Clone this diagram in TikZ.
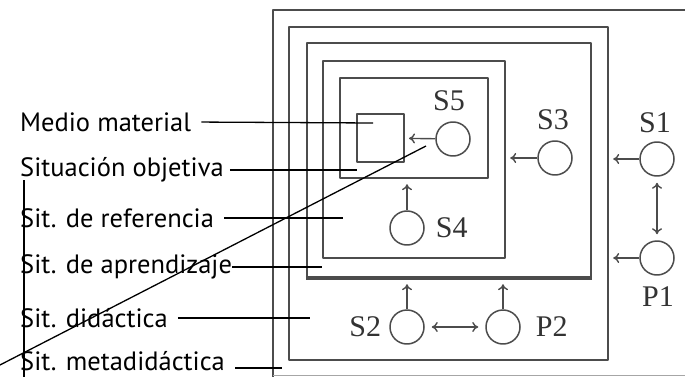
\documentclass[tikz,border=0pt]{standalone}
\usepackage{fontspec}
\setmainfont{Liberation Serif}
\newfontfamily\tagfont{PT Sans}
\usetikzlibrary{arrows.meta,positioning}
\tikzset{
  frame/.style={draw=black!70, line width=2.4pt, inner sep=0pt},
  sit/.style={circle, draw=black!70, line width=1.5pt, minimum size=34pt, inner sep=0pt},
  nm/.style={font=\fontsize{30}{30}\selectfont, inner sep=0pt, text=black!80},
  tag/.style={font=\tagfont\fontsize{26.5}{26.5}\selectfont, anchor=west, inner sep=0pt, text=black},
  lead/.style={black, line width=1.3pt},
  flow/.style={draw=black!70, line width=1.4pt},
}
\begin{document}
\begin{tikzpicture}[x=1pt, y=-1pt, line join=round, >={To[length=6pt,width=10pt]}]
\useasboundingbox (0,0) rectangle (685,377);
\path
(373,123) coordinate (medio-e)
(357,170) coordinate (objetiva-e)
(343,218) coordinate (referencia-e)
(322,267) coordinate (aprendizaje-e)
(310,318) coordinate (didactica-e)
(282,368) coordinate (meta-e)
(24,180) coordinate (v-top)
(24,380) coordinate (v-bot)
(-2,366) coordinate (d-low)
(426,146) coordinate (d-high)
;
% frames
\draw[frame] (690,10) -| (273,380);
\draw[black!35, line width=1pt] (273,375) -- (690,375);
\node[frame, minimum width=319, minimum height=333] (didactica) at (448.5,193.5) {};
\node[frame, minimum width=284, minimum height=234] (aprendizaje) at (449,160) {};
\draw[black!70, line width=4pt] (aprendizaje.south west) -- (aprendizaje.south east);
\node[frame, minimum width=182, minimum height=197] (referencia) at (414,159.5) {};
\node[frame, minimum width=148, minimum height=100] (objetiva) at (414,128) {};
\node[frame, line width=2pt, minimum width=47, minimum height=48] (medio) at (380.5,138) {};
% subjects
\node[sit] (s5) at (453,139) {};
\node[sit] (s3) at (555,158) {};
\node[sit] (s1) at (657,159) {};
\node[sit] (p1) at (657,258) {};
\node[sit] (s4) at (407,228) {};
\node[sit] (s2) at (407,327) {};
\node[sit] (p2) at (503,327) {};
\node[nm] at (449,101) {S5};
\node[nm] at (553,120) {S3};
\node[nm] at (655,123) {S1};
\node[nm] at (658,297) {P1};
\node[nm, right=11pt of s4] {S4};
\node[nm, left=8pt of s2] {S2};
\node[nm, right=15pt of p2] {P2};
\draw[flow,->,shorten >=4pt] (s5) -- (medio);
\draw[flow,->,shorten >=4pt] (s3) -- (s3 -| referencia.east);
\draw[flow,->,shorten >=4pt] (s1) -- (s1 -| didactica.east);
\draw[flow,->,shorten >=4pt] (p1) -- (p1 -| didactica.east);
\draw[flow,<->,shorten >=6pt,shorten <=6pt] (s1) -- (p1);
\draw[flow,->,shorten >=5pt] (s4) -- (s4 |- objetiva.south);
\draw[flow,->,shorten >=6pt] (s2) -- (s2 |- aprendizaje.south);
\draw[flow,->,shorten >=6pt] (p2) -- (p2 |- aprendizaje.south);
\draw[flow,<->,shorten >=7pt,shorten <=7pt] (s2) -- (p2);
% names of the levels
\node[tag] (medio-t) at (20,122) {Medio material};
\node[tag] (objetiva-t) at (20,170) {Situación objetiva};
\node[tag] (referencia-t) at (20,218) {Sit. de referencia};
\node[tag] (aprendizaje-t) at (20,267) {Sit. de aprendizaje};
\node[tag] (didactica-t) at (20,318) {Sit. didáctica};
\node[tag] (meta-t) at (20,361) {Sit. metadidáctica};
\draw[lead,shorten <=10pt] (medio-t.east) -- (medio-e);
\draw[lead,shorten <=6pt] (objetiva-t.east) -- (objetiva-e);
\draw[lead,shorten <=10pt] (referencia-t.east) -- (referencia-e);
\draw[lead] (aprendizaje-t.east) -- (aprendizaje-e);
\draw[lead,shorten <=10pt] (didactica-t.east) -- (didactica-e);
\draw[lead,shorten <=10pt] (meta-t.east |- meta-e) -- (meta-e);
\draw[lead] (v-top) -- (v-bot);
\draw[lead] (d-low) -- (d-high);
\end{tikzpicture}
\end{document}
